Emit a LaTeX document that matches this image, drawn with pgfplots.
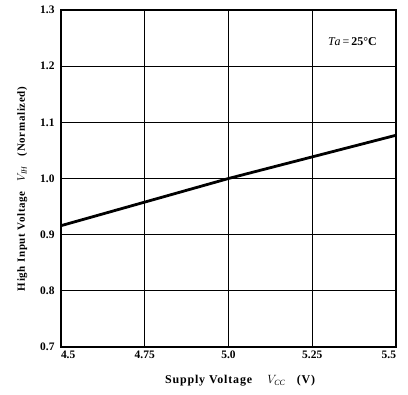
\documentclass[border=0pt]{standalone}
\usepackage{pgfplots}
\pgfplotsset{compat=1.18}
\usepackage{fontspec}
\setmainfont{Liberation Serif}
\begin{document}
\begin{tikzpicture}
\begin{axis}[
  scale only axis,
  width=335bp, height=337bp,
  xmin=4.5, xmax=5.5, ymin=0.7, ymax=1.3,
  xtick={4.5,4.75,5.0,5.25,5.5},
  xticklabels={\makebox[0pt][l]{4.5},4.75,5.0,5.25,\makebox[0pt][r]{5.5}},
  ytick={0.7,0.8,0.9,1.0,1.1,1.2,1.3},
  yticklabels={0.7,0.8,0.9,1.0,1.1,1.2,1.3},
  major tick length=0pt,
  grid=major,
  grid style={black, line width=1.0pt},
  axis line style={black, line width=1.8pt},
  tick label style={font=\fontsize{11.5}{13}\selectfont\bfseries},
  yticklabel style={xshift=-3pt},
  xlabel={\addfontfeatures{LetterSpace=7}\textbf{Supply Voltage\ \ \ \ $V_{\mathit{CC}}$\ \ \ (V)}},
  ylabel={\addfontfeatures{LetterSpace=6}\textbf{High Input Voltage\ \ \ $V_{\mathit{IH}}$\ \ \ (Normalized)}},
  xlabel style={font=\fontsize{12}{14}\selectfont, at={(ticklabel cs:0.536)}, yshift=-10pt},
  ylabel style={font=\fontsize{11}{13}\selectfont, at={(ticklabel cs:0.47)}, yshift=6pt},
  clip=false,
]
\addplot[black, line width=2.8pt] coordinates {(4.5,0.916) (5.0,1.0) (5.5,1.077)};
\node[font=\fontsize{12}{14}\selectfont] at (axis cs:5.37,1.243) {$\mathit{Ta}$\,=\,\textbf{25\textdegree C}};
\end{axis}
\path (current axis.south west) ++(-61bp,-48bp) coordinate (bl);
\path (current axis.north east) ++(12bp,10bp) coordinate (tr);
\useasboundingbox (bl) rectangle (tr);
\end{tikzpicture}
\end{document}
